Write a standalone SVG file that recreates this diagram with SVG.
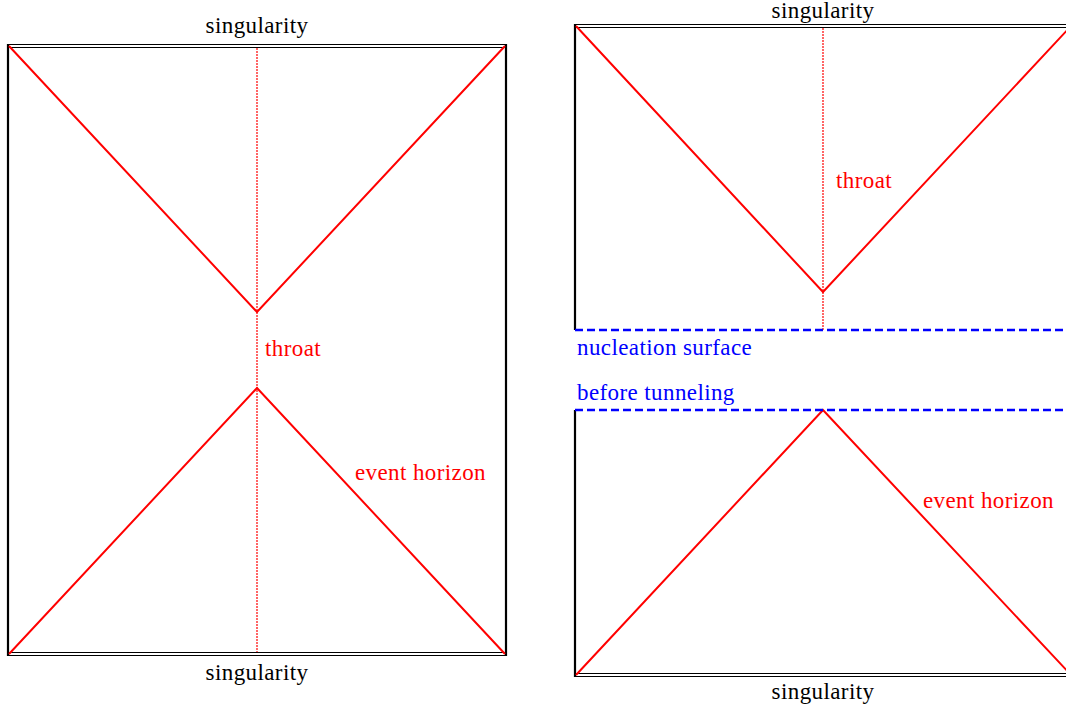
<svg xmlns="http://www.w3.org/2000/svg" width="1066" height="706" viewBox="0 0 1066 706">
<style>
text{font-family:'Liberation Serif','Times New Roman',serif;font-size:23px;letter-spacing:0.4px}
.blk{fill:#000}
.red{fill:#ff0000}
.blue{fill:#0000ff}
.side{stroke:#000;stroke-width:2.2;fill:none}
.dbl{stroke:#000;stroke-width:1.2;fill:none}
.hor{stroke:#ff0000;stroke-width:2;fill:none}
.thr{stroke:#ff0000;stroke-width:1.2;stroke-dasharray:2 1;fill:none}
.nuc{stroke:#0000ff;stroke-width:2.5;stroke-dasharray:8 4;fill:none}
</style>
<rect width="1066" height="706" fill="#fff"/>
<g id="left-panel">
  <line class="side" x1="8" y1="44" x2="8" y2="656"/>
  <line class="side" x1="506" y1="44" x2="506" y2="656"/>
  <line class="dbl" x1="7" y1="44.5" x2="507" y2="44.5"/>
  <line class="dbl" x1="7" y1="47.5" x2="507" y2="47.5"/>
  <line class="dbl" x1="7" y1="652.5" x2="507" y2="652.5"/>
  <line class="dbl" x1="7" y1="655.5" x2="507" y2="655.5"/>
</g>
<g id="right-panel-top">
  <line class="side" x1="575" y1="24" x2="575" y2="330"/>
  <line class="dbl" x1="574" y1="24.5" x2="1070" y2="24.5"/>
  <line class="dbl" x1="574" y1="27.5" x2="1070" y2="27.5"/>
</g>
<g id="right-panel-bottom">
  <line class="side" x1="575" y1="410" x2="575" y2="677"/>
  <line class="dbl" x1="574" y1="673.5" x2="1070" y2="673.5"/>
  <line class="dbl" x1="574" y1="676.5" x2="1070" y2="676.5"/>
</g>
<g id="connectors">
  <polyline class="hor" points="9,46 257,312 505,46"/>
  <polyline class="hor" points="9,654 257,388 505,654"/>
  <line class="thr" x1="257" y1="48" x2="257" y2="652"/>
  <polyline class="hor" points="576,26 823,292 1071,26"/>
  <line class="thr" x1="823" y1="28" x2="823" y2="330"/>
  <polyline class="hor" points="576,675 823,410 1071,675"/>
  <line class="nuc" x1="575" y1="330" x2="1070" y2="330"/>
  <line class="nuc" x1="575" y1="410" x2="1070" y2="410"/>
</g>
<g id="labels">
  <text class="blk" x="257" y="33" text-anchor="middle">singularity</text>
  <text class="blk" x="257" y="680" text-anchor="middle">singularity</text>
  <text class="red" x="265" y="356">throat</text>
  <text class="red" x="355" y="480">event horizon</text>
  <text class="blk" x="823" y="18" text-anchor="middle">singularity</text>
  <text class="blk" x="823" y="699" text-anchor="middle">singularity</text>
  <text class="red" x="836" y="188">throat</text>
  <text class="blue" x="577" y="355">nucleation surface</text>
  <text class="blue" x="577" y="400">before tunneling</text>
  <text class="red" x="923" y="508">event horizon</text>
</g>
</svg>
